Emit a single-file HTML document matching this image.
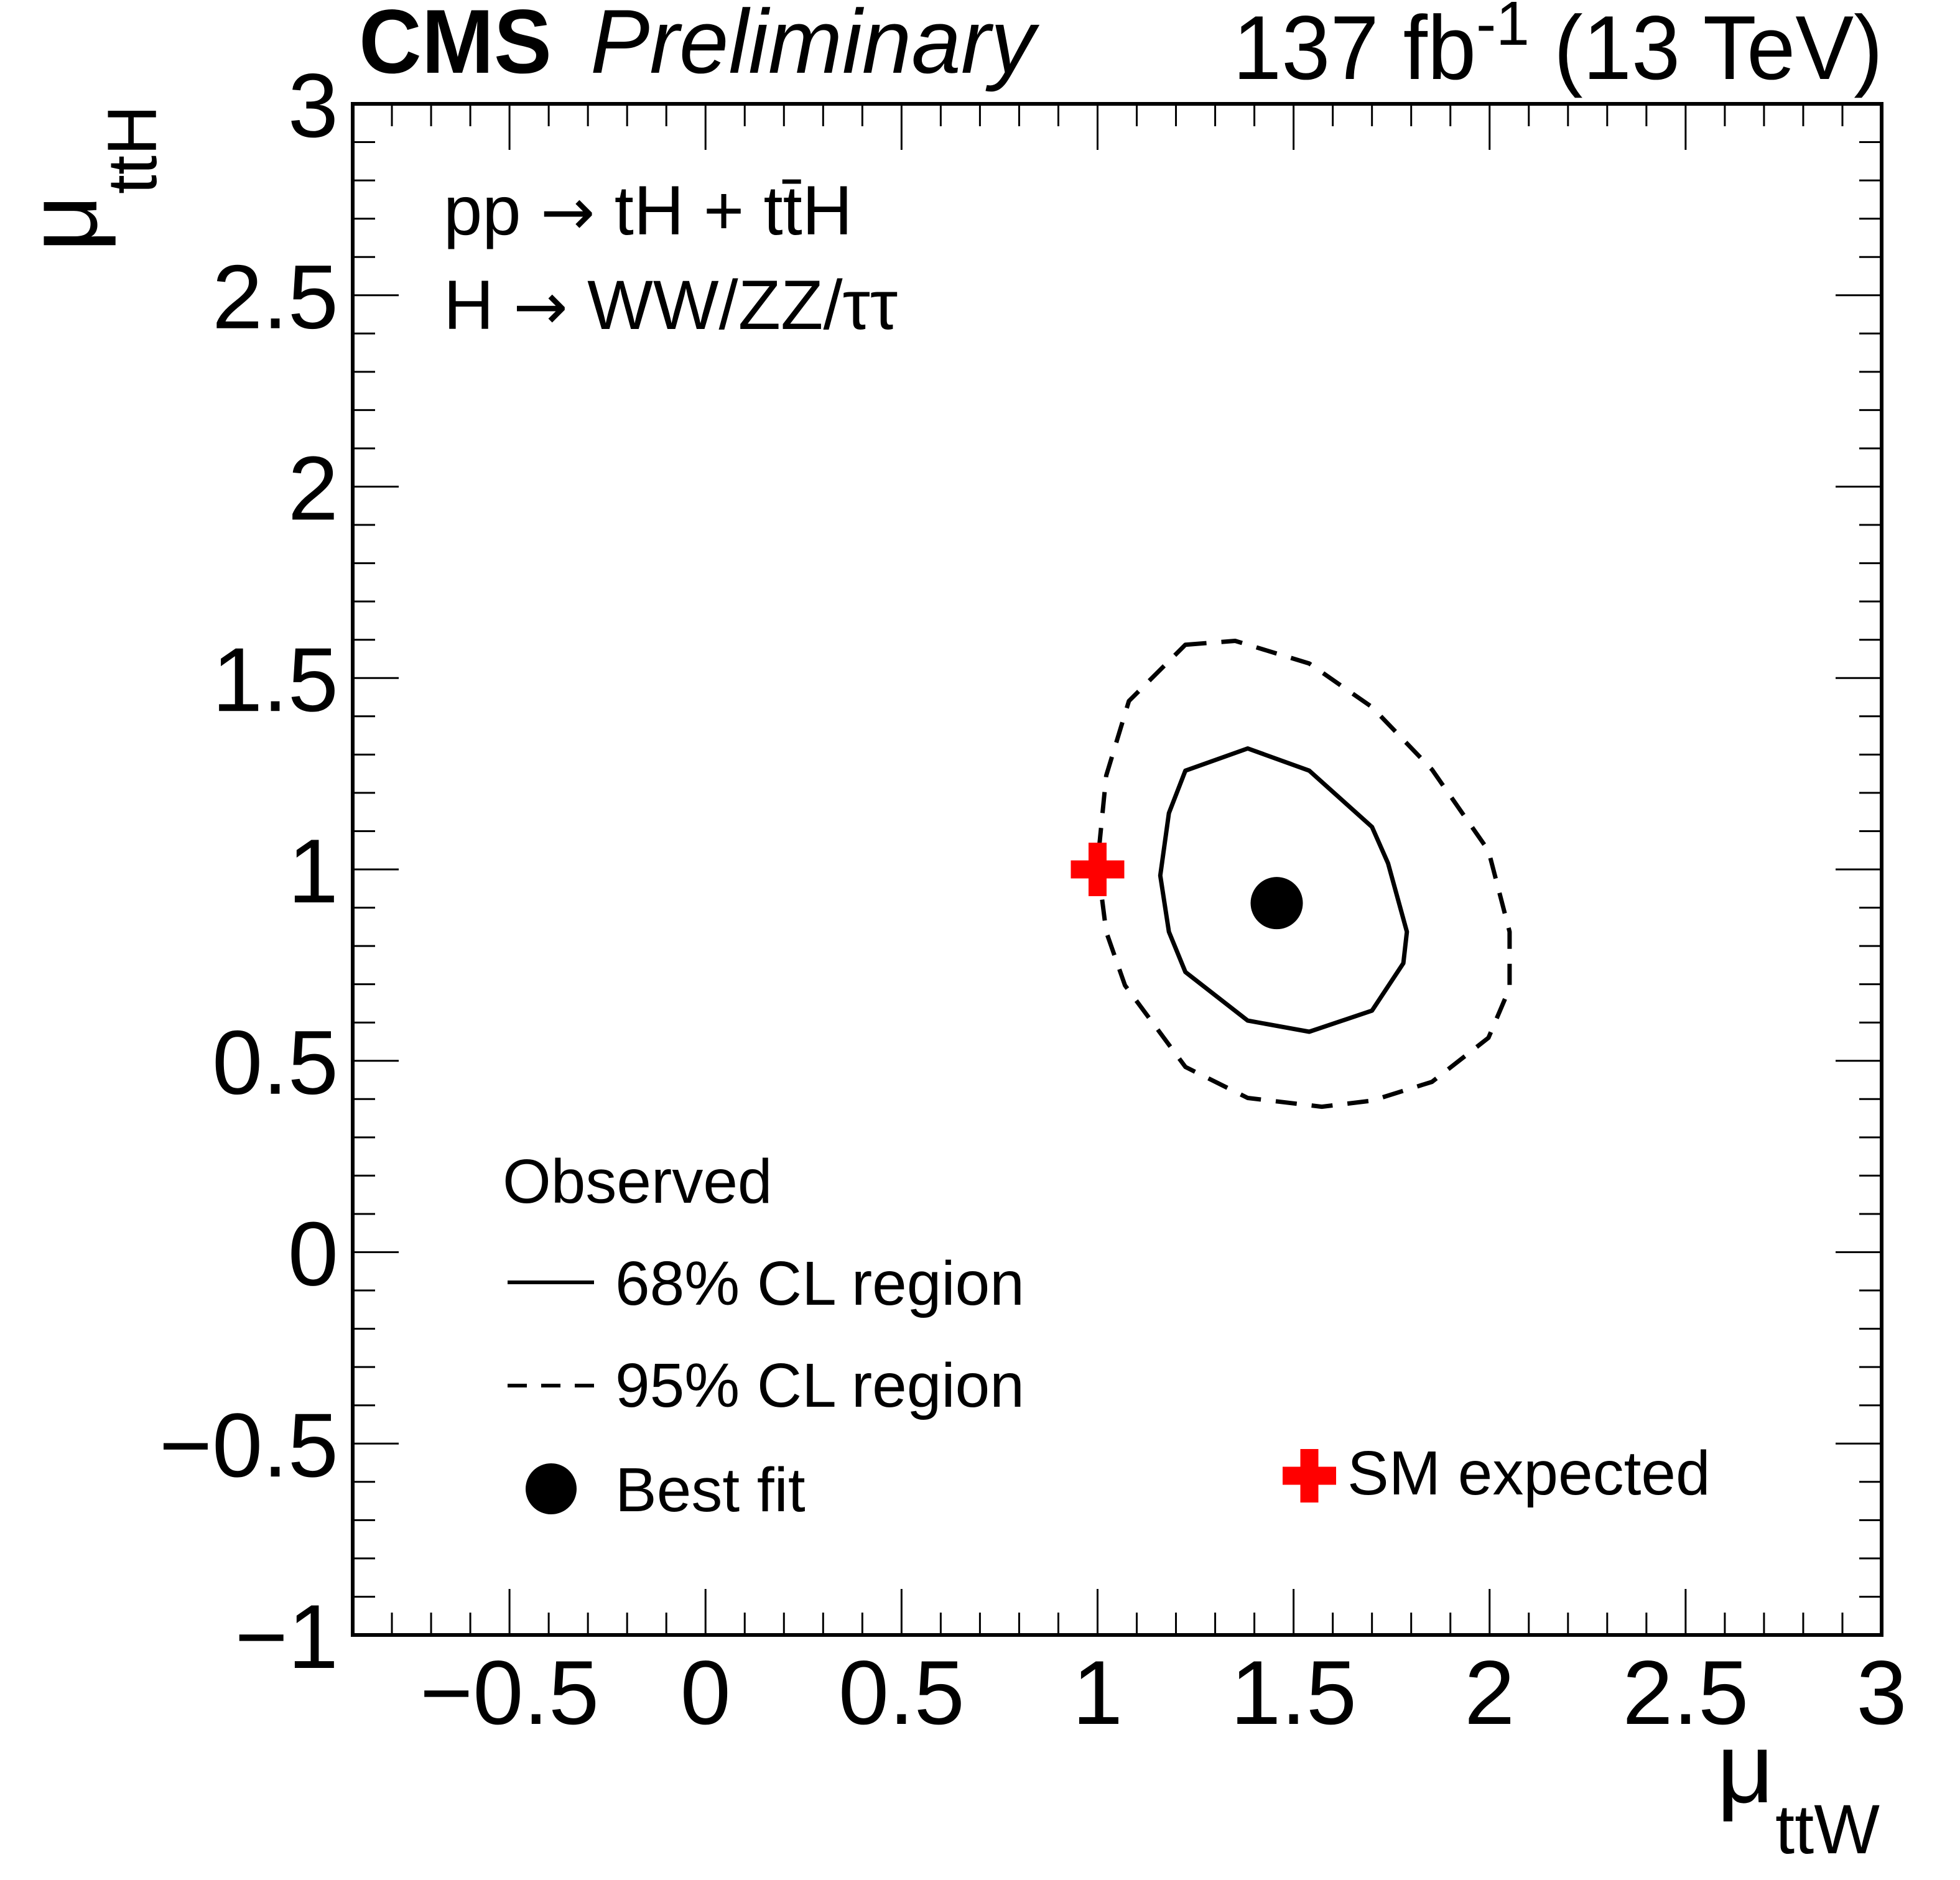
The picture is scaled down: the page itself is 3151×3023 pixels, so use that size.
<!DOCTYPE html>
<html><head><meta charset="utf-8">
<style>
html,body{margin:0;padding:0;background:#fff;}
svg{display:block;font-family:"Liberation Sans",Arial,sans-serif;}
</style></head>
<body>
<svg id="chart" width="3151" height="3023" viewBox="0 0 3151 3023" xmlns="http://www.w3.org/2000/svg">
  <rect x="0" y="0" width="3151" height="3023" fill="#fff"/>
  <g id="ticks"></g>
  <g id="ylabels"></g>
  <g id="xlabels"></g>
  <g id="marks"></g>
  <rect x="567" y="167" width="2458" height="2462" fill="none" stroke="#000" stroke-width="6"/>

  <text x="577" y="117" font-size="146" font-weight="bold" textLength="310" lengthAdjust="spacingAndGlyphs">CMS</text>
  <text x="949" y="117" font-size="146" font-style="italic" textLength="715" lengthAdjust="spacingAndGlyphs">Preliminary</text>
  <text x="3027" y="127" font-size="146" text-anchor="end" textLength="1045" lengthAdjust="spacingAndGlyphs">137 fb<tspan dy="-55" font-size="100">-1</tspan><tspan dy="55"> (13 TeV)</tspan></text>

  <text x="713" y="377" font-size="112">pp <tspan font-family="'DejaVu Sans',sans-serif" font-size="105">→</tspan> tH + tt̄H</text>
  <text x="713" y="529" font-size="112">H <tspan font-family="'DejaVu Sans',sans-serif" font-size="105">→</tspan> WW/ZZ/ττ</text>

  <g>
    <text x="2760" y="2898" font-size="160">μ</text>
    <text x="3022" y="2980" font-size="112" text-anchor="end">ttW</text>
  </g>
  <g>
    <text transform="translate(155,405) rotate(-90)" font-size="160">μ</text>
    <text transform="translate(251,169) rotate(-90)" font-size="112" text-anchor="end">ttH</text>
  </g>

  <g>
    <text x="808" y="1934" font-size="100">Observed</text>
    <line x1="816" y1="2062" x2="955" y2="2062" stroke="#000" stroke-width="6"/>
    <text x="989" y="2098" font-size="100">68% CL region</text>
    <line x1="816" y1="2228" x2="955" y2="2228" stroke="#000" stroke-width="6" stroke-dasharray="31,23"/>
    <text x="989" y="2262" font-size="100">95% CL region</text>
    <circle cx="886" cy="2394" r="41" fill="#000"/>
    <text x="989" y="2430" font-size="100">Best fit</text>
    <g transform="translate(2105,2373)">
      <rect x="-43" y="-14.5" width="86" height="29" fill="#ff0000"/>
      <rect x="-14.5" y="-43" width="29" height="86" fill="#ff0000"/>
    </g>
    <text x="2166" y="2403" font-size="100">SM expected</text>
  </g>
</svg>
<script>
const xTickLabels = ["\u22120.5","0","0.5","1","1.5","2","2.5","3"];
const xTickValues = [-0.5,0,0.5,1,1.5,2,2.5,3];
const yTickLabels = ["\u22121","\u22120.5","0","0.5","1","1.5","2","2.5","3"];
const yTickValues = [-1,-0.5,0,0.5,1,1.5,2,2.5,3];
const contour68X = [1.224,1.383,1.540,1.700,1.741,1.789,1.780,1.700,1.540,1.383,1.224,1.182,1.160,1.182];
const contour68Y = [1.258,1.316,1.258,1.111,1.016,0.837,0.755,0.631,0.576,0.605,0.732,0.837,0.984,1.147];
const contour95X = [1.224,1.351,1.540,1.700,1.853,1.997,2.051,2.051,1.997,1.853,1.700,1.572,1.383,1.224,1.070,1.022,1.000,1.022,1.080];
const contour95Y = [1.587,1.597,1.538,1.424,1.261,1.049,0.837,0.690,0.560,0.445,0.396,0.380,0.403,0.484,0.697,0.837,1.016,1.245,1.440];
const bestFit = [1.457, 0.912];
const smPoint = [1, 1];

const X0=567,X1=3025,Y0=167,Y1=2629;
const xMin=-0.9,xMax=3,yMin=-1,yMax=3;
function sx(v){return X0+(v-xMin)/(xMax-xMin)*(X1-X0);}
function sy(v){return Y1-(v-yMin)/(yMax-yMin)*(Y1-Y0);}
const NS="http://www.w3.org/2000/svg";
function mk(tag,attrs,parent){const e=document.createElementNS(NS,tag);for(const k in attrs)e.setAttribute(k,attrs[k]);parent.appendChild(e);return e;}

const ticks=document.getElementById('ticks');
for(let i=-8;i<=30;i++){
  const v=i/10; const x=sx(v); const major=(i%5===0); const L=major?74:36;
  const t1=mk('line',{x1:x,y1:Y1,x2:x,y2:Y1-L,stroke:'#000','stroke-width':3},ticks);
  
  
  const t2=mk('line',{x1:x,y1:Y0,x2:x,y2:Y0+L,stroke:'#000','stroke-width':3},ticks);
  
  
}
for(let i=-10;i<=30;i++){
  const v=i/10; const y=sy(v); const major=(i%5===0); const L=major?74:36;
  const t1=mk('line',{x1:X0,y1:y,x2:X0+L,y2:y,stroke:'#000','stroke-width':3},ticks);
  
  
  const t2=mk('line',{x1:X1,y1:y,x2:X1-L,y2:y,stroke:'#000','stroke-width':3},ticks);
  
  
}
const xl=document.getElementById('xlabels');
xTickValues.forEach((v,i)=>{
  const t=mk('text',{x:sx(v),y:2772,'font-size':146,'text-anchor':'middle'},xl);
  t.textContent=xTickLabels[i];
  
  
});
const yl=document.getElementById('ylabels');
yTickValues.forEach((v,i)=>{
  const t=mk('text',{x:544,y:sy(v)+53,'font-size':146,'text-anchor':'end'},yl);
  t.textContent=yTickLabels[i];
  
  
});
const marks=document.getElementById('marks');
function pts(xs,ys){return xs.map((x,i)=>sx(x).toFixed(1)+','+sy(ys[i]).toFixed(1)).join(' ');}
const c95=mk('polygon',{points:pts(contour95X,contour95Y),fill:'none',stroke:'#000','stroke-width':7,'stroke-dasharray':'34,24','stroke-linejoin':'round'},marks);


const c68=mk('polygon',{points:pts(contour68X,contour68Y),fill:'none',stroke:'#000','stroke-width':7,'stroke-linejoin':'round'},marks);


const bf=mk('circle',{cx:sx(bestFit[0]),cy:sy(bestFit[1]),r:42,fill:'#000'},marks);


const sm=mk('g',{transform:'translate('+sx(smPoint[0])+','+sy(smPoint[1])+')'},marks);


mk('rect',{x:-43,y:-14.5,width:86,height:29,fill:'#ff0000'},sm);
mk('rect',{x:-14.5,y:-43,width:29,height:86,fill:'#ff0000'},sm);
</script>
</body></html>
